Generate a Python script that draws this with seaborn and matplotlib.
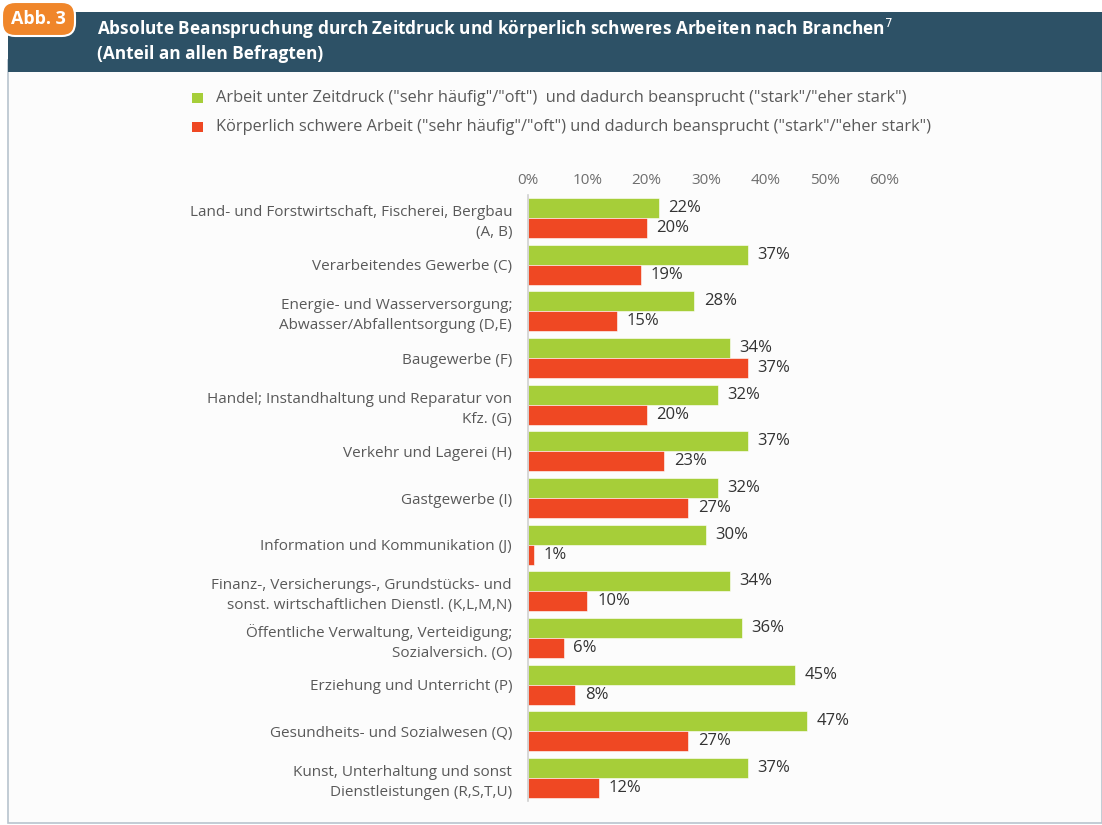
import matplotlib
matplotlib.use("Agg")
import matplotlib.pyplot as plt
from matplotlib.patches import Rectangle, FancyBboxPatch
import seaborn as sns
import pandas as pd

categories = [
    "Land- und Forstwirtschaft, Fischerei, Bergbau\n(A, B)",
    "Verarbeitendes Gewerbe (C)",
    "Energie- und Wasserversorgung;\nAbwasser/Abfallentsorgung (D,E)",
    "Baugewerbe (F)",
    "Handel; Instandhaltung und Reparatur von\nKfz. (G)",
    "Verkehr und Lagerei (H)",
    "Gastgewerbe (I)",
    "Information und Kommunikation (J)",
    "Finanz-, Versicherungs-, Grundstücks- und\nsonst. wirtschaftlichen Dienstl. (K,L,M,N)",
    "Öffentliche Verwaltung, Verteidigung;\nSozialversich. (O)",
    "Erziehung und Unterricht (P)",
    "Gesundheits- und Sozialwesen (Q)",
    "Kunst, Unterhaltung und sonst\nDienstleistungen (R,S,T,U)",
]
zeitdruck = [22, 37, 28, 34, 32, 37, 32, 30, 34, 36, 45, 47, 37]
koerperlich = [20, 19, 15, 37, 20, 23, 27, 1, 10, 6, 8, 27, 12]
series_names = [
    'Arbeit unter Zeitdruck ("sehr häufig"/"oft")  und dadurch beansprucht ("stark"/"eher stark")',
    'Körperlich schwere Arbeit ("sehr häufig"/"oft") und dadurch beansprucht ("stark"/"eher stark")',
]
x_ticks = [0, 10, 20, 30, 40, 50, 60]
title = "Absolute Beanspruchung durch Zeitdruck und körperlich schweres Arbeiten nach Branchen$^{7}$\n(Anteil an allen Befragten)"

GREEN = "#A6CE39"
RED = "#EF4823"
HEADER = "#2D5166"
ORANGE = "#F0862A"
TXT = "#595959"

df = pd.DataFrame({
    "Branche": categories * 2,
    "Wert": zeitdruck + koerperlich,
    "Serie": [series_names[0]] * len(categories) + [series_names[1]] * len(categories),
})

sns.set_theme(style="white")
plt.rcParams["font.family"] = ["Open Sans", "DejaVu Sans"]

W, H = 1102, 825
fig = plt.figure(figsize=(W / 100, H / 100), dpi=100)
fig.patch.set_facecolor("white")

# body frame
fig.patches.append(Rectangle((8 / W, 1 - 823 / H), 1 - 8 / W, (823 - 60) / H,
                             transform=fig.transFigure, facecolor="#FCFCFC",
                             edgecolor="#B8C4CE", linewidth=1.2, zorder=-2))
# header band
fig.patches.append(Rectangle((8 / W, 1 - 72 / H), 1 - 8 / W, 60 / H,
                             transform=fig.transFigure, facecolor=HEADER,
                             edgecolor="none", zorder=-1))
# orange tab
fig.patches.append(FancyBboxPatch((2 / W, 1 - 36 / H), 73 / W, 34 / H,
                                  boxstyle="round,pad=0,rounding_size=0.012",
                                  transform=fig.transFigure, facecolor=ORANGE,
                                  edgecolor="white", linewidth=1.5, zorder=2,
                                  mutation_aspect=W / H))
fig.text(38 / W, 1 - 19 / H, "Abb. 3", color="white", fontsize=13,
         fontweight="bold", ha="center", va="center", zorder=3)
fig.text(97 / W, 1 - 40 / H, title, color="white", fontsize=12.4,
         fontweight="bold", ha="left", va="center", linespacing=1.25, zorder=3)

top_px, bot_px = 194.7, 801.3
ax = fig.add_axes([528 / W, 1 - bot_px / H, (884 - 528) / W, (bot_px - top_px) / H])
ax.set_zorder(5)
ax.set_facecolor("none")

sns.barplot(data=df, y="Branche", x="Wert", hue="Serie", orient="h",
            palette=[GREEN, RED], width=0.857, saturation=1, ax=ax,
            legend=False, edgecolor="white", linewidth=0.4)

ax.set_xlim(0, 60)
ax.set_ylim(12.5, -0.5)
ax.set_xticks(x_ticks)
ax.set_xticklabels([f"{t}%" for t in x_ticks], color="#6E6E6E", fontsize=11)
ax.xaxis.tick_top()
ax.tick_params(axis="x", length=0, pad=5)
ax.tick_params(axis="y", length=0, pad=11.5)
ax.set_yticks(range(len(categories)))
ax.set_yticklabels(categories, color=TXT, fontsize=11, linespacing=1.45)
ax.set_xlabel("")
ax.set_ylabel("")
for s in ["top", "right", "bottom"]:
    ax.spines[s].set_visible(False)
ax.spines["left"].set_color("#D0D0D0")
ax.spines["left"].set_linewidth(1.2)

for cont in ax.containers:
    ax.bar_label(cont, labels=[f"{int(v)}%" for v in cont.datavalues],
                 padding=7, fontsize=12, color="#333333")

# legend
for i, (name, col) in enumerate(zip(series_names, [GREEN, RED])):
    y = 1 - (98 + 29 * i) / H
    fig.patches.append(Rectangle((192 / W, y - 5 / H), 11 / W, 10 / H,
                                 transform=fig.transFigure, facecolor=col,
                                 edgecolor="none", zorder=3))
    fig.text(216 / W, y, name, color=TXT, fontsize=11.8, ha="left", va="center")

fig.savefig("out.png", dpi=100, facecolor="white")
